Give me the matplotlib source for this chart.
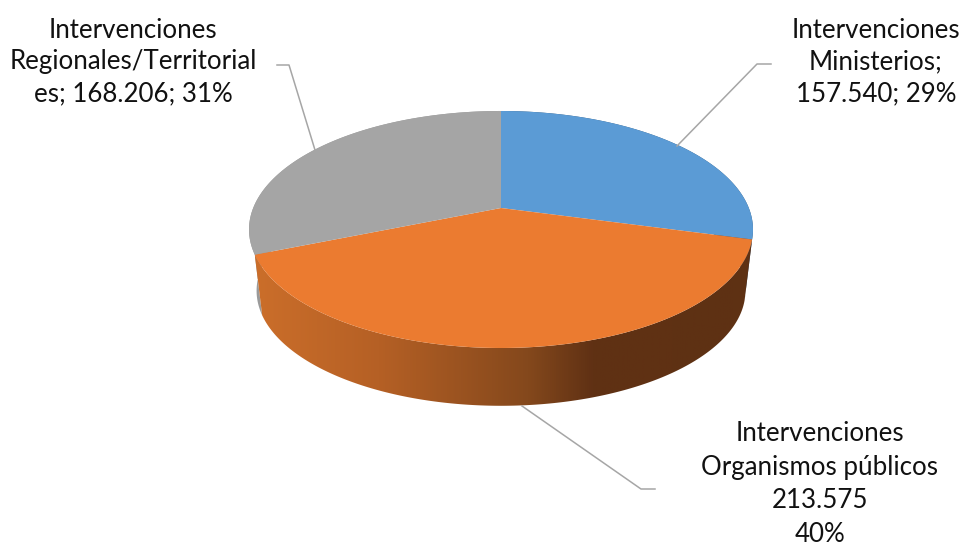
import numpy as np
import matplotlib
matplotlib.use("Agg")
import matplotlib.pyplot as plt
from matplotlib.colors import LinearSegmentedColormap
from matplotlib.patches import Polygon

categories = ["Ministerios", "Organismos públicos", "Regionales/Territoriales"]
values = [157540, 213575, 168206]
slice_colors = ["#5B9BD5", "#EB7B30", "#A5A5A5"]
wall_colors = ["#35597B", None, "#9A9A9A"]

labels = [
    "Intervenciones\nMinisterios;\n157.540; 29%",
    "Intervenciones\nOrganismos públicos\n213.575\n40%",
    "Intervenciones\nRegionales/Territorial\nes; 168.206; 31%",
]

# Pie geometry in pixels, perspective fitted to the picture
CX, CY = 501, 208
RX, RY = 247.8, 114.6
PERSP = 0.1814
DEPTH_DY = 62
DEPTH_SCALE = 0.97


def project(theta, scale=1.0, dy=0.0):
    # theta is clockwise from the top of the pie
    x = np.sin(theta)
    y = np.cos(theta)
    den = 1 + PERSP * y
    return CX + scale * RX * x / den, CY + dy - scale * RY * y / den


fig = plt.figure(figsize=(9.62, 5.46), dpi=100)
ax = fig.add_axes([0, 0, 1, 1])
ax.set_xlim(0, 962)
ax.set_ylim(546, 0)
ax.axis("off")

fractions = np.array(values) / sum(values)
edges = np.concatenate([[0], np.cumsum(fractions)]) * 2 * np.pi

# Side walls first
for i in range(3):
    t = np.linspace(edges[i], edges[i + 1], 200)
    tx, ty = project(t)
    bx, by = project(t[::-1], DEPTH_SCALE, DEPTH_DY)
    pts = np.column_stack([np.r_[tx, bx], np.r_[ty, by]])
    if wall_colors[i] is not None:
        ax.add_patch(Polygon(pts, closed=True, fc=wall_colors[i], ec="none", zorder=1))
    else:
        wall = Polygon(pts, closed=True, fc="none", ec="none", zorder=2)
        ax.add_patch(wall)
        wall_cmap = LinearSegmentedColormap.from_list(
            "wall",
            [(0.0, "#CB6E2A"), (0.25, "#B56025"), (0.55, "#84481C"), (0.68, "#603114"), (1.0, "#5E3113")],
        )
        grad = ax.imshow(
            np.linspace(0, 1, 512).reshape(1, -1),
            extent=(255, 752, 420, 230),
            cmap=wall_cmap,
            aspect="auto",
            zorder=2,
        )
        grad.set_clip_path(wall)

# Top faces
for i in range(3):
    t = np.linspace(edges[i], edges[i + 1], 200)
    tx, ty = project(t)
    pts = np.column_stack([np.r_[CX, tx], np.r_[CY, ty]])
    ax.add_patch(Polygon(pts, closed=True, fc=slice_colors[i], ec="none", zorder=3))

# Leader lines
leaders = [
    ([771, 757, 677], [64, 64, 146]),
    ([522, 641, 655], [406, 489, 489]),
    ([277, 289, 315], [65, 65, 150]),
]
for lx, ly in leaders:
    ax.plot(lx, ly, color="#A6A6A6", lw=1.1, zorder=4, solid_joinstyle="round")

# Data labels
ax.text(876, 62, labels[0], ha="center", va="center", fontsize=18.6, family="Lato",
        color="#111111", linespacing=1.32)
ax.text(820, 484, labels[1], ha="center", va="center", fontsize=18.6, family="Lato",
        color="#111111", linespacing=1.43)
ax.text(133, 62, labels[2], ha="center", va="center", fontsize=18.6, family="Lato",
        color="#111111", linespacing=1.32)

fig.savefig("out.png", dpi=100)
